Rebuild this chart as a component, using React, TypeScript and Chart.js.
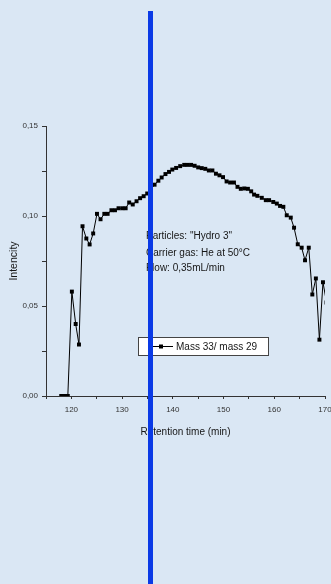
import React, { useEffect, useRef } from "react";
import { Chart, registerables } from "chart.js";

Chart.register(...registerables);

// Retention time (min)
const times: number[] = [
  118.0, 118.7, 119.3, 120.1, 120.85, 121.5, 122.2, 122.95, 123.6, 124.3,
  125.05, 125.75, 126.5, 127.15, 127.9, 128.6, 129.3, 130.05, 130.7, 131.4,
  132.1, 132.85, 133.55, 134.25, 134.95, 135.7, 136.4, 137.15, 137.8, 138.55,
  139.25, 139.9, 140.65, 141.45, 142.25, 142.9, 143.6, 144.3, 145.0, 145.7,
  146.4, 147.1, 147.8, 148.5, 149.2, 149.9, 150.6, 151.3, 152.05, 152.75,
  153.4, 154.1, 154.8, 155.45, 156.02, 156.67, 157.54, 158.33, 158.98, 159.8,
  160.5, 161.14, 161.79, 162.46, 163.25, 163.9, 164.63, 165.4, 166.06, 166.8,
  167.5, 168.2, 168.9, 169.6, 170.3,
];

// Mass 33 / mass 29 intensity
const ratio: number[] = [
  0, 0, 0, 0.058, 0.04, 0.0286, 0.0943, 0.0875, 0.0842, 0.0903,
  0.1012, 0.0982, 0.1012, 0.1012, 0.1032, 0.1032, 0.1043, 0.1043, 0.1043, 0.1075,
  0.1064, 0.1082, 0.1099, 0.111, 0.1125, 0.1148, 0.1174, 0.1196, 0.1214, 0.1233,
  0.1245, 0.1258, 0.1267, 0.1277, 0.1284, 0.1284, 0.1284, 0.1279, 0.127, 0.1266,
  0.1262, 0.1253, 0.1253, 0.1235, 0.1226, 0.1216, 0.1192, 0.1186, 0.1186, 0.1162,
  0.1151, 0.1153, 0.1151, 0.1137, 0.1119, 0.1112, 0.1101, 0.1088, 0.1088, 0.1078,
  0.1069, 0.1056, 0.1051, 0.1004, 0.0991, 0.0935, 0.0843, 0.0824, 0.0754, 0.0824,
  0.0564, 0.0653, 0.0313, 0.0632, 0.052,
];

const seriesLabel = "Mass 33/ mass 29";
const xTitle = "Retention time (min)";
const yTitle = "Intencity";
const noteLines: string[] = [
  'Particles: "Hydro 3"',
  "Carrier gas: He at 50°C",
  "Flow: 0,35mL/min",
];

const FONT = '"Liberation Sans", Arial, sans-serif';

const overlayPlugin = {
  id: "overlay",
  afterDatasetsDraw(chart: any) {
    const { ctx, chartArea: a } = chart;
    ctx.save();
    // notes
    ctx.font = `10px ${FONT}`;
    ctx.fillStyle = "#161616";
    ctx.textBaseline = "middle";
    ctx.textAlign = "left";
    const offs = [110.5, 127, 142];
    noteLines.forEach((t, i) => ctx.fillText(t, a.left + 100, a.top + offs[i]));
    // legend box
    const bx = Math.round(a.left + 92) + 0.5;
    const by = Math.round(a.top + 211) + 0.5;
    const bw = 130;
    const bh = 18;
    ctx.fillStyle = "#ffffff";
    ctx.fillRect(bx, by, bw, bh);
    ctx.strokeStyle = "#444";
    ctx.lineWidth = 1;
    ctx.strokeRect(bx, by, bw, bh);
    const cy = by + bh / 2;
    ctx.strokeStyle = "#000";
    ctx.beginPath();
    ctx.moveTo(bx + 14.5, cy);
    ctx.lineTo(bx + 34.5, cy);
    ctx.stroke();
    ctx.fillStyle = "#000";
    ctx.fillRect(bx + 20.5, cy - 2, 4, 4);
    ctx.fillStyle = "#161616";
    ctx.font = `10px ${FONT}`;
    ctx.fillText(seriesLabel, bx + 37.5, cy + 0.5);
    ctx.restore();
  },
};

export default function App() {
  const ref = useRef<HTMLCanvasElement | null>(null);

  useEffect(() => {
    if (!ref.current) return;
    const chart = new Chart(ref.current, {
      type: "line",
      data: {
        datasets: [
          {
            label: seriesLabel,
            data: times.map((t, i) => ({ x: t, y: ratio[i] })),
            borderColor: "#000",
            borderWidth: 1,
            backgroundColor: "#000",
            pointStyle: "rect",
            pointRadius: 2.8,
            pointBorderWidth: 0,
            pointBackgroundColor: "#000",
            tension: 0,
            fill: false,
          },
        ],
      },
      options: {
        responsive: false,
        animation: false,
        events: [],
        layout: { padding: { top: 126, right: 6, bottom: 138, left: 0 } },
        plugins: {
          legend: { display: false },
          tooltip: { enabled: false },
        },
        scales: {
          x: {
            type: "linear",
            min: 115,
            max: 170,
            afterFit: (s: any) => {
              s.height = 50;
              s.paddingRight = 0;
              s.paddingLeft = 0;
            },
            border: { display: true, color: "#333", width: 1 },
            grid: {
              drawOnChartArea: false,
              drawTicks: true,
              tickLength: 3,
              tickColor: "#333",
            },
            ticks: {
              stepSize: 5,
              autoSkip: false,
              maxRotation: 0,
              padding: 6,
              color: "#333",
              font: { family: FONT, size: 8 },
              callback: (v: any) => (Math.round(v) % 10 === 0 ? String(Math.round(v)) : ""),
            },
            title: {
              display: true,
              text: xTitle,
              color: "#161616",
              font: { family: FONT, size: 10 },
              padding: { top: 4, bottom: 8 },
            },
          },
          y: {
            type: "linear",
            min: 0,
            max: 0.15,
            afterFit: (s: any) => {
              s.width = 46;
            },
            border: { display: true, color: "#333", width: 1 },
            grid: {
              drawOnChartArea: false,
              drawTicks: true,
              tickLength: 4,
              tickColor: "#333",
            },
            ticks: {
              stepSize: 0.025,
              autoSkip: false,
              padding: 4,
              color: "#333",
              font: { family: FONT, size: 8 },
              callback: (v: any) => {
                const m = Math.round(Number(v) * 1000);
                return m % 50 === 0 ? (m / 1000).toFixed(2).replace(".", ",") : "";
              },
            },
            title: {
              display: true,
              text: yTitle,
              color: "#161616",
              font: { family: FONT, size: 10.5 },
              padding: { top: 8, bottom: 0 },
            },
          },
        },
      },
      plugins: [overlayPlugin],
    });
    return () => chart.destroy();
  }, []);

  return (
    <div
      style={{
        position: "fixed",
        left: 0,
        top: 0,
        width: 331,
        height: 584,
        background: "#dae7f4",
        overflow: "hidden",
      }}
    >
      <canvas
        ref={ref}
        width={331}
        height={584}
        style={{ position: "absolute", left: 0, top: 0, width: 331, height: 584 }}
      />
      <div
        style={{
          position: "absolute",
          left: 148,
          top: 11,
          width: 5,
          height: 573,
          background: "#0a3ae6",
        }}
      />
    </div>
  );
}
